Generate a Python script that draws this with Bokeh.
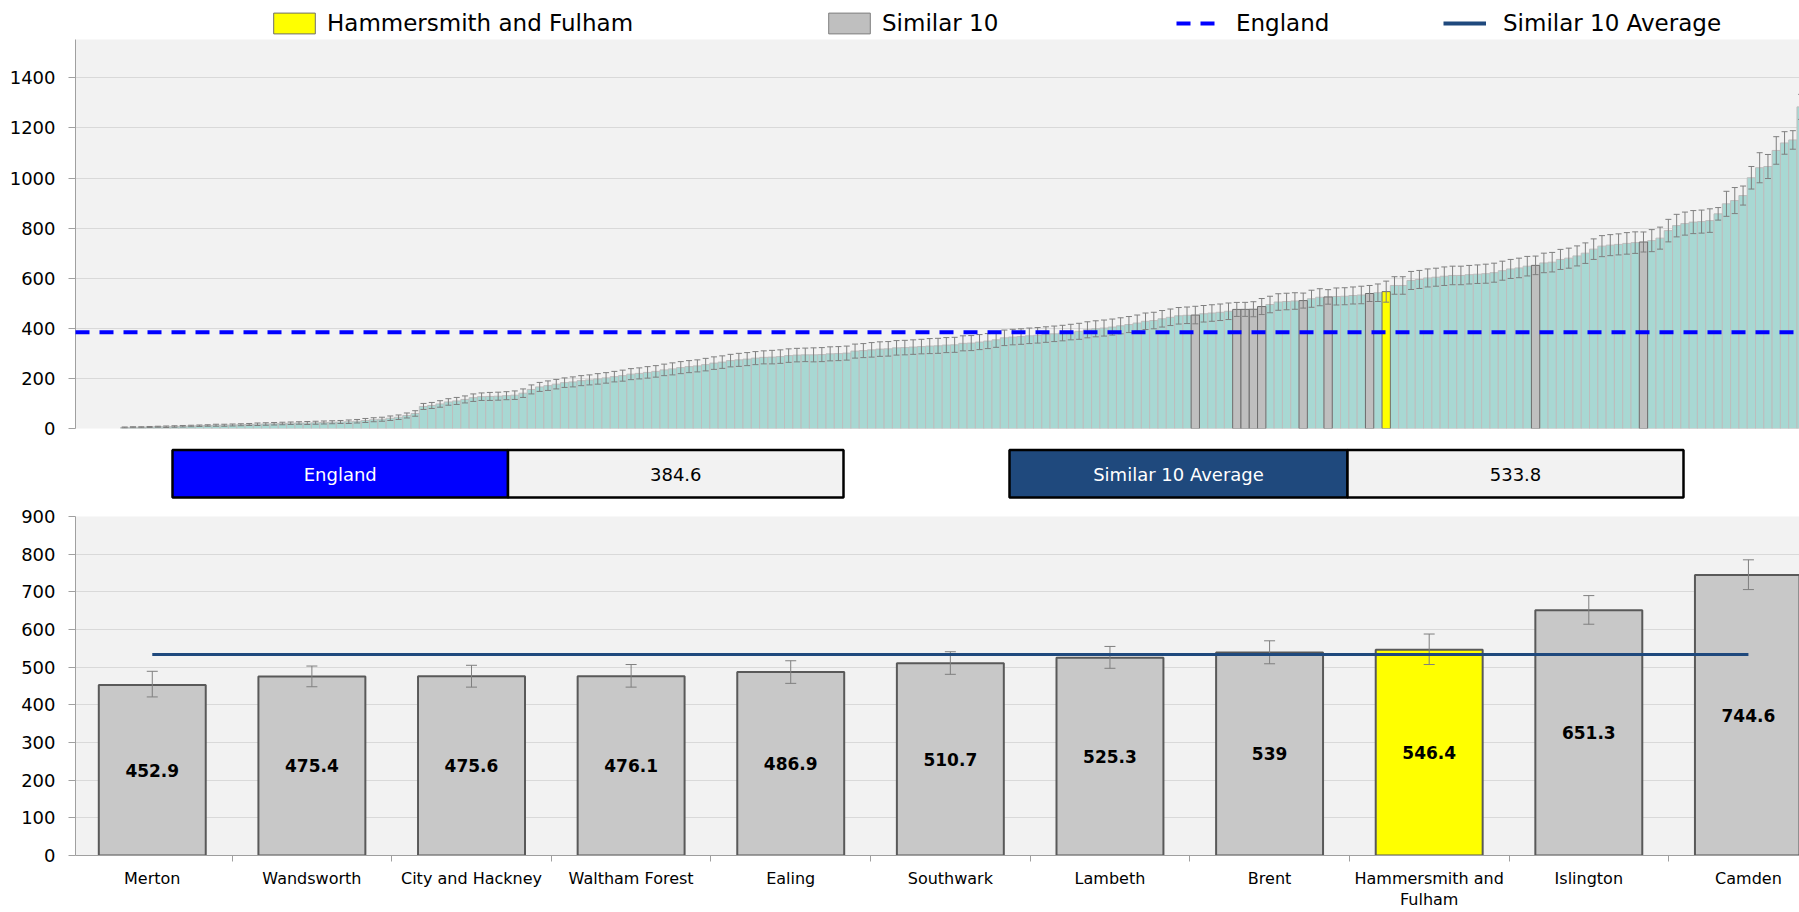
import textwrap
from bokeh.plotting import figure
from bokeh.models import (Range1d, FixedTicker, Whisker, TeeHead, ColumnDataSource,
                          Legend, LegendItem)
from bokeh.layouts import column
from bokeh.embed import file_html
from bokeh.resources import INLINE
from bokeh.core.properties import value

nan = float("nan")

# ---------------- data ----------------
# rate for every area, sorted ascending (first five have no value)
ccg_rates = [
    nan, nan, nan, nan, nan,
    4, 5, 5, 6, 7, 7, 8, 9, 10, 11, 12, 13, 13, 14, 15, 16, 17, 18, 19, 20, 21, 22, 22, 23, 24, 25, 26, 27,
    29, 32, 35, 37, 41, 45, 52, 60,
    88, 92, 98, 106, 110, 116, 123, 127, 128, 129, 131, 133, 141, 156, 166, 171, 177, 183, 186, 191,
    194, 198, 202, 207, 211, 217, 220, 224, 228, 234, 238, 243, 247,
    250, 255, 261, 265, 271, 274, 277, 281, 284, 285, 287, 291, 293, 294, 294, 295, 298, 299, 301, 309,
    311, 314, 317, 318, 322, 323, 325, 327, 329, 330, 333, 334, 340, 341, 345, 349, 354, 362, 365, 367,
    370, 372, 375, 378, 381, 385, 388, 394, 398, 401, 405, 410, 415, 421, 428, 431, 438, 444, 450, 452,
    452.9, 458, 461, 464, 468, 475.4, 475.6, 476.1, 486.9, 495, 505, 507, 509, 510.7, 518, 524, 525.3,
    527, 528, 531, 533, 539, 542, 546.4,
    571, 571, 591, 595, 601, 604, 608, 611, 611, 614, 616, 618, 622, 630, 637, 641, 648, 651.3, 661, 664,
    675, 680, 689, 700, 716, 728, 732, 735, 739, 742, 744.6, 750, 760, 790, 810, 818, 824, 826, 830, 857,
    897, 910, 930, 1001, 1041, 1046, 1110, 1140, 1152, 1284,
]
# half width of the 95% confidence interval for every area
ccg_ci = [
    nan, nan, nan, nan, nan,
    2, 2, 2, 2, 2, 3, 3, 3, 3, 3, 3, 4, 4, 4, 4, 4, 5, 5, 5, 5, 5, 5, 6, 6, 6, 6, 6, 7,
    7, 8, 8, 8, 9, 9, 10, 11,
    12, 12, 13, 13, 14, 14, 15, 15, 16, 16, 16, 17, 17, 18, 18, 19, 19, 19, 20, 20,
    20, 21, 21, 21, 22, 22, 22, 23, 23, 23, 24, 24, 24,
    24, 25, 25, 25, 25, 26, 26, 26, 26, 27, 27, 27, 27, 27, 28, 28, 28, 28, 28, 28,
    28, 29, 29, 29, 29, 29, 29, 29, 30, 30, 30, 30, 30, 30, 30, 30, 30, 31, 31, 31,
    31, 31, 31, 31, 31, 31, 32, 32, 32, 32, 32, 32, 32, 32, 33, 33, 33, 33, 33, 33,
    35, 33, 33, 33, 33, 28, 28, 30, 32, 33, 33, 33, 33, 30, 34, 34, 29,
    34, 34, 34, 35, 32, 35, 42,
    35, 35, 36, 36, 36, 36, 37, 37, 37, 37, 37, 38, 38, 38, 38, 39, 39, 37, 39, 39,
    40, 40, 40, 41, 41, 42, 42, 42, 43, 43, 40, 44, 44, 45, 45, 46, 46, 46, 47, 25,
    50, 52, 38, 45, 60, 48, 55, 45, 37, 50,
]

similar_names = ["Merton", "Wandsworth", "City and Hackney", "Waltham Forest", "Ealing",
                 "Southwark", "Lambeth", "Brent", "Hammersmith and Fulham", "Islington", "Camden"]
similar_rates = [452.9, 475.4, 475.6, 476.1, 486.9, 510.7, 525.3, 539, 546.4, 651.3, 744.6]
similar_lower = [421, 448, 447, 447, 457, 481, 497, 509, 507, 614, 706]
similar_upper = [489, 503, 505, 507, 517, 541, 555, 570, 588, 690, 785]
highlight_name = "Hammersmith and Fulham"
england_rate = 384.6
top_ticks = [0, 200, 400, 600, 800, 1000, 1200, 1400]
bottom_ticks = [0, 100, 200, 300, 400, 500, 600, 700, 800, 900]

# ---------------- derived ----------------
FONT = "DejaVu Sans"
TEAL = "#A8D8D3"
PEER_GREY = "#BFBFBF"
BAR_GREY = "#C8C8C8"
YELLOW = "#FFFF00"
NAVY = "#1F497D"
BLUE = "#0000FF"
W = 1799
LEFT = 75          # common left border (plot frames in a column are aligned)

hl_pos = similar_names.index(highlight_name)
hl_rate = similar_rates[hl_pos]
peer_rates = [r for n, r in zip(similar_names, similar_rates) if n != highlight_name]
similar_avg = round(sum(peer_rates) / len(peer_rates), 1)

hl_index = ccg_rates.index(hl_rate)
peer_index = [ccg_rates.index(r) for r in peer_rates]
valid = [i for i, r in enumerate(ccg_rates) if r == r]
base_idx = [i for i in valid if i != hl_index and i not in peer_index]


def style_yaxis(ax, ticks):
    ax.ticker = FixedTicker(ticks=ticks)
    ax.major_label_text_font = FONT
    ax.major_label_text_font_size = "18px"
    ax.major_label_text_color = "#000000"
    ax.major_tick_out = 7
    ax.major_tick_in = 0
    ax.minor_tick_line_color = None
    ax.major_label_standoff = 13
    ax.axis_line_color = "#A0A0A0"
    ax.major_tick_line_color = "#A0A0A0"


# ---------------- legend strip ----------------
leg = figure(width=W, height=39, x_range=Range1d(0, 1), y_range=Range1d(0, 1),
             x_axis_type=None, y_axis_type=None, output_backend="svg", toolbar_location=None,
             min_border=0, min_border_left=LEFT, outline_line_color=None,
             background_fill_color="white", border_fill_color="white")
leg_hl = leg.vbar(x=[hl_index + 0.5], top=[hl_rate], width=1, fill_color=YELLOW,
                  line_color="#6E6E6E", line_width=1, visible=False)
leg_peer = leg.vbar(x=[i + 0.5 for i in peer_index], top=peer_rates, width=1,
                    fill_color=PEER_GREY, line_color="#7F7F7F", line_width=1, visible=False)
leg_eng = leg.line(x=[0, 1], y=[england_rate, england_rate], line_color=BLUE, line_width=4,
                   line_dash="14 10", visible=False)
leg_avg = leg.line(x=[0, 1], y=[similar_avg, similar_avg], line_color=NAVY, line_width=4,
                   visible=False)


def add_legend(fig, label, rend, x, y, glyph_w, standoff):
    lg = Legend(items=[LegendItem(label=value(label), renderers=[rend])], location=(x - LEFT, y),
                glyph_width=glyph_w, glyph_height=26, label_height=26, label_standoff=standoff,
                label_text_font=FONT, label_text_font_size="23px", label_text_color="#000000",
                padding=0, margin=0, spacing=0, border_line_color=None,
                background_fill_alpha=0, inactive_fill_alpha=0)
    fig.add_layout(lg)


add_legend(leg, highlight_name, leg_hl, 268, 3, 52, 7)
add_legend(leg, "Similar 10", leg_peer, 823, 3, 52, 7)
add_legend(leg, "England", leg_eng, 1176, 3, 40, 20)
add_legend(leg, "Similar 10 Average", leg_avg, 1443, 3, 43, 17)

# ---------------- top chart ----------------
top = figure(width=W, height=401, x_range=Range1d(-0.43, 207.3), y_range=Range1d(0, 1553),
             x_axis_type=None, output_backend="svg", toolbar_location=None,
             min_border_left=LEFT, min_border_right=0, min_border_top=0, min_border_bottom=12,
             background_fill_color="#F2F2F2", border_fill_color="white", outline_line_color=None)
style_yaxis(top.yaxis[0], top_ticks)
top.ygrid.grid_line_color = "#D9D9D9"
top.ygrid.grid_line_width = 1

base_src = ColumnDataSource(dict(x=[i + 0.5 for i in base_idx], top=[ccg_rates[i] for i in base_idx]))
top.vbar(x="x", top="top", width=1, source=base_src, fill_color=TEAL,
         line_color="#BDBDBD", line_width=1)
top.vbar(x=[i + 0.5 for i in peer_index], top=[ccg_rates[i] for i in peer_index],
         width=1, fill_color=PEER_GREY, line_color="#6E6E6E", line_width=1)
top.vbar(x=[hl_index + 0.5], top=[ccg_rates[hl_index]], width=1,
         fill_color=YELLOW, line_color="#6E6E6E", line_width=1)

err_src = ColumnDataSource(dict(base=[i + 0.5 for i in valid],
                                lower=[ccg_rates[i] - ccg_ci[i] for i in valid],
                                upper=[ccg_rates[i] + ccg_ci[i] for i in valid]))
top.add_layout(Whisker(source=err_src, base="base", lower="lower", upper="upper",
                       line_color="#7F7F7F", line_width=1, level="annotation",
                       upper_head=TeeHead(size=6, line_color="#7F7F7F", line_width=1),
                       lower_head=TeeHead(size=6, line_color="#7F7F7F", line_width=1)))

top.line(x=[top.x_range.start, top.x_range.end], y=[england_rate, england_rate],
         line_color=BLUE, line_width=4, line_dash="14 10", level="overlay")

# ---------------- middle boxes ----------------
mid = figure(width=W, height=63, x_range=Range1d(LEFT, W), y_range=Range1d(503, 440),
             x_axis_type=None, y_axis_type=None, output_backend="svg", toolbar_location=None,
             min_border=0, min_border_left=LEFT, outline_line_color=None,
             background_fill_color="white", border_fill_color="white")
mid.quad(left=[172, 507.5, 1009, 1347], right=[507.5, 843, 1347, 1683],
         top=[449.5] * 4, bottom=[497] * 4,
         fill_color=[BLUE, "#F2F2F2", NAVY, "#F2F2F2"], line_color="black", line_width=2.5)
mid.text(x=[339.75, 675.25, 1178, 1515], y=[473.5] * 4,
         text=["England", f"{england_rate:g}", "Similar 10 Average", f"{similar_avg:g}"],
         text_color=["white", "black", "white", "black"], text_font=value(FONT),
         text_font_size="18px", text_align="center", text_baseline="middle")

# ---------------- bottom chart ----------------
cat_x = [i + 0.5 for i in range(len(similar_names))]
bot = figure(width=W, height=409, x_range=Range1d(0.019, 10.82), y_range=Range1d(0, 900),
             output_backend="svg", toolbar_location=None,
             min_border_left=LEFT, min_border_right=0, min_border_top=13, min_border_bottom=57,
             background_fill_color="#F2F2F2", border_fill_color="white", outline_line_color=None)
style_yaxis(bot.yaxis[0], bottom_ticks)
bot.ygrid.grid_line_color = "#D9D9D9"
bot.xgrid.grid_line_color = None

xa = bot.xaxis[0]
xa.ticker = FixedTicker(ticks=cat_x, minor_ticks=[float(i) for i in range(len(similar_names) + 1)])
xa.major_label_overrides = {x: textwrap.fill(n, 16) for x, n in zip(cat_x, similar_names)}
xa.major_label_text_font = FONT
xa.major_label_text_font_size = "16px"
xa.major_label_text_color = "#000000"
xa.major_label_text_line_height = 1.15
xa.major_tick_line_color = None
xa.major_tick_out = 0
xa.major_tick_in = 0
xa.minor_tick_out = 6
xa.minor_tick_in = 0
xa.minor_tick_line_color = "#A0A0A0"
xa.axis_line_color = "#A0A0A0"
xa.major_label_standoff = 7

bot.vbar(x=cat_x, top=similar_rates, width=0.67,
         fill_color=[YELLOW if n == highlight_name else BAR_GREY for n in similar_names],
         line_color="#595959", line_width=2)
bot_err = ColumnDataSource(dict(base=cat_x, lower=similar_lower, upper=similar_upper))
bot.add_layout(Whisker(source=bot_err, base="base", lower="lower", upper="upper",
                       line_color="#7F7F7F", line_width=1, level="annotation",
                       upper_head=TeeHead(size=11, line_color="#7F7F7F", line_width=1),
                       lower_head=TeeHead(size=11, line_color="#7F7F7F", line_width=1)))
bot.line(x=[cat_x[0], cat_x[-1]], y=[similar_avg, similar_avg], line_color=NAVY, line_width=3,
         level="overlay")
bot.text(x=cat_x, y=[r / 2 for r in similar_rates], text=[f"{r:g}" for r in similar_rates],
         text_font=value(FONT), text_font_style="bold", text_font_size="17px",
         text_color="#000000", text_align="center", text_baseline="middle")

layout = column(leg, top, mid, bot, spacing=0)
open("out.html", "w").write(file_html(layout, INLINE))
